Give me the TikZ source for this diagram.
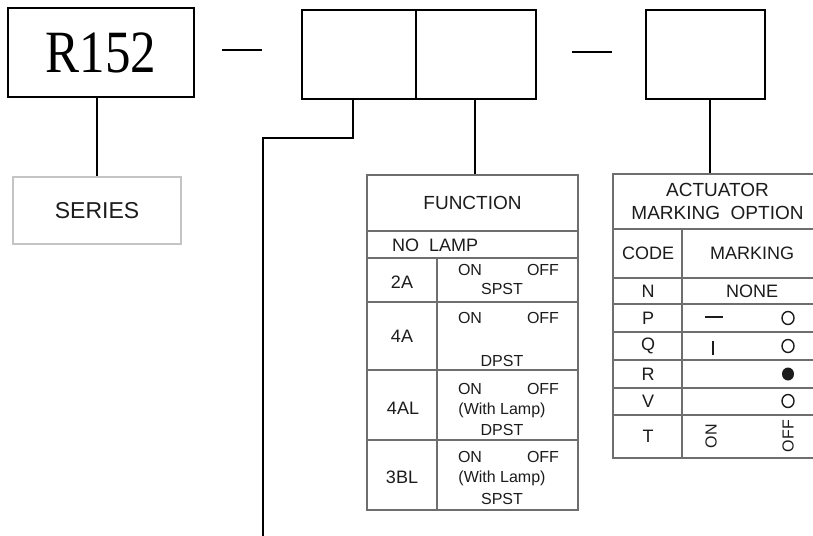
\documentclass[tikz,border=0pt]{standalone}
\usepackage{fontspec}
\setmainfont{Liberation Sans}
\newfontfamily\serifR{Liberation Serif}
\definecolor{tline}{HTML}{6E6E6E}
\definecolor{txt}{HTML}{1C1C1C}
\definecolor{lbox}{HTML}{C4C4C4}
\begin{document}
\begin{tikzpicture}[x=1pt,y=-1pt,
  bigbox/.style={draw=black,line width=2pt,inner sep=0pt,anchor=center},
  conn/.style={draw=black,line width=2pt},
  tl/.style={draw=tline,line width=1.1pt},
  cell/.style={draw=tline,line width=1.1pt,inner sep=0pt,text=txt,anchor=center},
  hd/.style={text=txt,font=\fontsize{19}{23}\selectfont,inner sep=0pt},
  cd/.style={text=txt,font=\fontsize{18}{20}\selectfont,inner sep=0pt},
  ds/.style={text=txt,font=\fontsize{16}{18}\selectfont,inner sep=0pt},
  mk/.style={draw=txt,line width=1.4pt},
]
\clip (0,0) rectangle (813,535);
\fill[white] (0,0) rectangle (813,535);

% top boxes
\node[bigbox,minimum width=186,minimum height=89] (r152) at (101,52.5)
  {\scalebox{0.85}[1]{\fontsize{60}{60}\selectfont\serifR R152}};
\node[bigbox,minimum width=114,minimum height=89] (midL) at (359,54.5) {};
\node[bigbox,minimum width=120,minimum height=89] (midR) at (476,54.5) {};
\node[bigbox,minimum width=119,minimum height=89] (rbox) at (705.5,54.5) {};
\draw[conn] (222,50) -- (262,50);
\draw[conn] (572,52) -- (612,52);

% series
\node[draw=lbox,line width=1.1pt,minimum width=168,minimum height=67,inner sep=0pt,
  text=txt,font=\fontsize{23}{25}\selectfont] (series) at (97,210.5) {SERIES};
\draw[conn] (r152.south -| series.north) -- (series.north);

% left long connector
\coordinate (bend) at (263,138);
\coordinate (bottomend) at (263,536);
\draw[conn] ([xshift=-6pt]midL.south) |- (bend) -- (bottomend);

% function table
\node[cell,minimum width=211,minimum height=56] (func) at (472.5,203) {};
\node[hd] at (func.center) {FUNCTION};
\draw[conn] ([xshift=-1pt]midR.south) -- ([xshift=-1pt]midR.south |- func.north);
\draw[tl] (367,231) rectangle (578,510);
\foreach \yy in {258,302,370,440} \draw[tl] (367,\yy) -- (578,\yy);
\draw[tl] (437,258) -- (437,510);
\node[cd,anchor=west] (nolamp) at (392,245) {NO\ \ LAMP};

\node[cd] (c2a) at (402,282) {2A};
\node[ds] at (470,270) {ON};
\node[ds] at (543,270) {OFF};
\node[ds] at (502,289) {SPST};

\node[cd] (c4a) at (402,336) {4A};
\node[ds] at (470,318) {ON};
\node[ds] at (543,318) {OFF};
\node[ds] at (502,361) {DPST};

\node[cd] (c4al) at (403,408) {4AL};
\node[ds] at (470,389) {ON};
\node[ds] at (543,389) {OFF};
\node[ds] at (502,410) {(With Lamp)};
\node[ds] at (502,430) {DPST};

\node[cd] (c3bl) at (402,477) {3BL};
\node[ds] at (470,457) {ON};
\node[ds] at (543,457) {OFF};
\node[ds] at (502,478) {(With Lamp)};
\node[ds] at (502,499) {SPST};

% actuator table
\node[cell,minimum width=209,minimum height=55] (act) at (717.5,201.5) {};
\node[hd,align=center] at (act.center) {ACTUATOR\\MARKING\ \ OPTION};
\draw[conn] ([xshift=4.5pt]rbox.south) -- ([xshift=4.5pt]rbox.south |- act.north);
\draw[tl] (613,229) rectangle (822,458);
\foreach \yy in {278,304,332,360,388,415} \draw[tl] (613,\yy) -- (822,\yy);
\draw[tl] (682,229) -- (682,458);

\node[cd] at (648,253) {CODE};
\node[cd] at (752,253) {MARKING};
\node[cd] at (648,291) {N};
\node[cd] at (752,291) {NONE};
\node[cd] at (648,318) {P};
\node[cd] at (648,346) {Q};
\node[cd] at (648,374) {R};
\node[cd] at (648,401) {V};
\node[cd] at (648,436) {T};

\draw[mk,line width=2.5pt] (705,317) -- (723,317);
\draw[mk,line width=2.5pt] (713,341) -- (713,355);
\draw[mk] (788,318) ellipse [x radius=6pt, y radius=6.5pt];
\draw[mk] (788,346) ellipse [x radius=6pt, y radius=6.5pt];
\fill[txt] (788,374) ellipse [x radius=6pt, y radius=6.5pt];
\draw[mk] (788,401) ellipse [x radius=6pt, y radius=6.5pt];
\node[ds,rotate=90] at (711,436) {ON};
\node[ds,rotate=90] at (788,436) {OFF};
\end{tikzpicture}
\end{document}
